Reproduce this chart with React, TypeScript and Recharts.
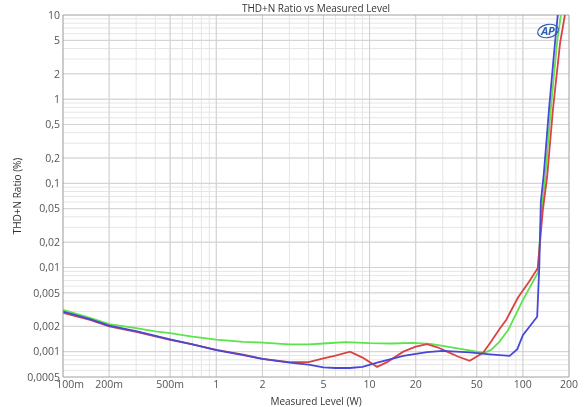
import { LineChart, Line, XAxis, YAxis, ReferenceLine } from "recharts";

// measured level (W) and THD+N ratio (%) per channel
const greenW = [0.1, 0.15, 0.2, 0.3, 0.4, 0.5, 0.7, 1, 1.5, 2, 3, 4, 5, 7, 10, 14, 19, 25, 30, 40, 50, 56, 62, 70, 80, 100, 125, 133, 140, 152, 167, 177];
const greenPct = [0.00313, 0.00252, 0.00212, 0.0019, 0.00174, 0.00166, 0.00151, 0.00139, 0.00131, 0.00128, 0.00122, 0.00122, 0.00125, 0.0013, 0.00126, 0.00125, 0.00127, 0.00124, 0.00117, 0.00107, 0.001, 0.00097, 0.00105, 0.0013, 0.0018, 0.0041, 0.0086, 0.05, 0.119, 0.744, 4.65, 10];

const redW = [0.1, 0.15, 0.2, 0.3, 0.5, 0.7, 1, 1.5, 2, 3, 4, 5, 6, 7.45, 9, 11.2, 13, 16.6, 20, 23.7, 28, 32, 38, 45, 55, 61, 71, 78, 93, 110, 125, 135, 144, 157, 175, 188];
const redPct = [0.00289, 0.00238, 0.002, 0.00172, 0.00138, 0.00122, 0.00105, 0.00092, 0.00082, 0.00075, 0.00075, 0.00083, 0.0009, 0.001, 0.00085, 0.00066, 0.00075, 0.001, 0.00115, 0.00123, 0.00112, 0.001, 0.00087, 0.00078, 0.00097, 0.00126, 0.0019, 0.0024, 0.0044, 0.0068, 0.0098, 0.048, 0.119, 0.744, 4.65, 10];

const blueW = [0.1, 0.15, 0.2, 0.3, 0.5, 0.7, 1, 1.5, 2, 3, 4, 5, 6, 7.4, 9, 11.2, 16.6, 23.7, 30, 45, 61, 82, 92, 100, 124, 128, 131, 137, 148, 162, 169];
const bluePct = [0.003, 0.00243, 0.00204, 0.00175, 0.0014, 0.00122, 0.00104, 0.00091, 0.00082, 0.00074, 0.0007, 0.00065, 0.00064, 0.00064, 0.00066, 0.00074, 0.00089, 0.00099, 0.00102, 0.00098, 0.00093, 0.00089, 0.00107, 0.00157, 0.0026, 0.0102, 0.06, 0.13, 0.744, 4.65, 10];

const xTicks = [0.1, 0.2, 0.5, 1, 2, 5, 10, 20, 50, 100, 200];
const yTicks = [0.0005, 0.001, 0.002, 0.005, 0.01, 0.02, 0.05, 0.1, 0.2, 0.5, 1, 2, 5, 10];

const toRows = (w: number[], p: number[]) => w.map((x, i) => ({ w: x, pct: p[i] }));
const green = toRows(greenW, greenPct);
const red = toRows(redW, redPct);
const blue = toRows(blueW, bluePct);

// minor grid: every integer multiple inside each decade
const minorGrid = (lo: number, hi: number) => {
  const out: number[] = [];
  for (let d = lo; d < hi; d *= 10) {
    for (let m = 1; m <= 9; m++) {
      const v = d * m;
      if (v > lo && v < hi) out.push(v);
    }
  }
  return out;
};
const xMinor = minorGrid(0.1, 200);
const yMinor = minorGrid(0.0001, 10).filter((v) => v > 0.0005);

const fmtX = (v: number) => (v < 1 ? `${Math.round(v * 1000)}m` : `${v}`);
const fmtY = (v: number) => String(v).replace(".", ",");

const font = "'Open Sans', sans-serif";

// first label sits a little inside the plot, like the original
const XTick = (props: any) => {
  const { x, y, payload } = props;
  const dx = payload.value === 0.1 ? 7 : 0;
  return (
    <text x={x + dx} y={y} dy="0.71em" textAnchor="middle" fontSize={10.5} fill="#555" fontFamily={font}>
      {fmtX(payload.value)}
    </text>
  );
};

export default function App() {
  return (
    <div style={{ position: "fixed", left: 0, top: 0, width: 584, height: 407, background: "#fff", fontFamily: font }}>
      <div style={{ position: "absolute", top: 1, left: 0, width: 632, textAlign: "center", fontSize: 10, color: "#333" }}>
        THD+N Ratio vs Measured Level
      </div>
      <LineChart width={584} height={407} margin={{ top: 15, right: 15, left: 0, bottom: 0 }}>
        <XAxis
          dataKey="w"
          type="number"
          scale="log"
          domain={[0.1, 200]}
          ticks={xTicks}
          allowDataOverflow
          height={30}
          tickLine={false}
          tickSize={4}
          tickMargin={0}
          axisLine={{ stroke: "#a0a0a0" }}
          tick={<XTick />}
          label={{ value: "Measured Level (W)", position: "insideBottom", offset: 2, fontSize: 10, fill: "#333", fontFamily: font }}
        />
        <YAxis
          type="number"
          scale="log"
          domain={[0.0005, 10]}
          ticks={yTicks}
          tickFormatter={fmtY}
          allowDataOverflow
          width={63}
          tickLine={false}
          tickSize={0}
          tickMargin={3}
          axisLine={{ stroke: "#999" }}
          tick={{ fontSize: 10.5, fill: "#555", fontFamily: font }}
          label={{ value: "THD+N Ratio (%)", angle: -90, position: "insideLeft", offset: 17, fontSize: 10, fill: "#333", fontFamily: font, style: { textAnchor: "middle" } }}
        />
        {xMinor.map((v) => (
          <ReferenceLine key={`xm${v}`} x={v} stroke="#e6e6e6" />
        ))}
        {yMinor.map((v) => (
          <ReferenceLine key={`ym${v}`} y={v} stroke="#e6e6e6" />
        ))}
        {xTicks.slice(1, -1).map((v) => (
          <ReferenceLine key={`xM${v}`} x={v} stroke="#d2d2d2" />
        ))}
        {yTicks.slice(1, -1).map((v) => (
          <ReferenceLine key={`yM${v}`} y={v} stroke="#d2d2d2" />
        ))}
        <ReferenceLine x={200} stroke="#a0a0a0" />
        <ReferenceLine y={10} stroke="#a0a0a0" />
        <Line data={green} dataKey="pct" stroke="#5ee24e" strokeWidth={1.8} dot={false} isAnimationActive={false} />
        <Line data={red} dataKey="pct" stroke="#d94442" strokeWidth={1.8} dot={false} isAnimationActive={false} />
        <Line data={blue} dataKey="pct" stroke="#4848d8" strokeWidth={1.8} dot={false} isAnimationActive={false} />
      </LineChart>
      <svg style={{ position: "absolute", left: 536, top: 23 }} width={24} height={16}>
        <ellipse cx={12} cy={8} rx={10.5} ry={6.5} fill="none" stroke="#2d62b0" strokeWidth={1.2} transform="rotate(-12 12 8)" />
        <text x={12} y={12} textAnchor="middle" fontSize={11} fontWeight="bold" fontStyle="italic" fill="#2d62b0" fontFamily={font}>
          AP
        </text>
      </svg>
    </div>
  );
}
